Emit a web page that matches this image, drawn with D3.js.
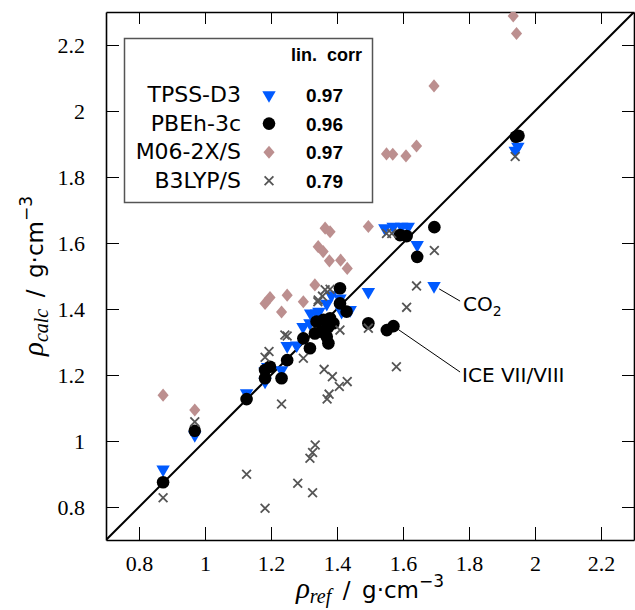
<!DOCTYPE html>
<html>
<head>
<meta charset="utf-8">
<script src="https://cdn.jsdelivr.net/npm/d3@7"></script>
<style>
  body { margin: 0; background: #fff; }
  svg { display: block; }
</style>
</head>
<body>
<script>
// reference density vs calculated density, one [ref, calc] pair per crystal
const tpss = [
  [0.873,0.914],[0.969,1.018],[1.126,1.145],[1.182,1.180],[1.182,1.211],[1.190,1.225],
  [1.232,1.215],[1.249,1.288],[1.278,1.290],[1.297,1.346],[1.318,1.357],[1.320,1.387],
  [1.338,1.387],[1.345,1.392],[1.369,1.416],[1.383,1.442],[1.409,1.432],[1.414,1.392],
  [1.440,1.397],[1.495,1.452],[1.545,1.645],[1.570,1.650],[1.596,1.650],[1.616,1.650],
  [1.643,1.594],[1.694,1.470],[1.940,1.880],[1.948,1.892]
]
const pbeh = [
  [0.873,0.875],[0.969,1.031],[1.126,1.127],[1.182,1.190],[1.182,1.215],[1.197,1.225],
  [1.232,1.190],[1.249,1.245],[1.298,1.311],[1.318,1.281],[1.333,1.326],[1.338,1.362],
  [1.353,1.331],[1.359,1.367],[1.369,1.316],[1.374,1.346],[1.374,1.296],[1.379,1.372],
  [1.389,1.357],[1.409,1.417],[1.409,1.463],[1.429,1.392],[1.495,1.357],[1.551,1.336],
  [1.571,1.348],[1.591,1.624],[1.611,1.621],[1.643,1.558],[1.695,1.648],[1.942,1.922],
  [1.950,1.925]
]
const m06 = [
  [0.873,1.139],[0.969,1.094],[1.182,1.417],[1.197,1.435],[1.232,1.391],[1.249,1.442],
  [1.298,1.422],[1.333,1.473],[1.343,1.589],[1.358,1.574],[1.364,1.645],[1.379,1.634],
  [1.377,1.546],[1.411,1.548],[1.431,1.523],[1.495,1.650],[1.550,1.870],[1.569,1.869],
  [1.609,1.864],[1.641,1.894],[1.694,2.076],[1.934,2.288],[1.944,2.235]
]
const b3lyp = [
  [0.873,0.828],[0.969,1.058],[1.126,0.899],[1.182,0.796],[1.182,1.254],[1.194,1.271],
  [1.232,1.112],[1.242,1.321],[1.249,1.318],[1.281,0.872],[1.298,1.251],[1.318,0.948],
  [1.326,0.843],[1.326,0.965],[1.334,0.988],[1.342,1.422],[1.343,1.427],[1.356,1.439],
  [1.364,1.458],[1.379,1.460],[1.361,1.217],[1.370,1.127],[1.376,1.142],[1.386,1.195],
  [1.407,1.165],[1.409,1.336],[1.431,1.180],[1.495,1.342],[1.550,1.629],[1.566,1.629],
  [1.580,1.225],[1.611,1.405],[1.641,1.470],[1.695,1.577],[1.940,1.862]
]

const methods = ["TPSS-D3", "PBEh-3c", "M06-2X/S", "B3LYP/S"]
const corr = ["0.97", "0.96", "0.97", "0.79"]
const ticks = [0.8, 1, 1.2, 1.4, 1.6, 1.8, 2, 2.2]
const domain = [0.7, 2.3]

// labelled outliers: data point, label anchor (data units), text
const notes = [
  { at: [1.694, 1.470], to: [1.773, 1.424], pos: [1.782, 1.394], main: "CO", sub: "2" },
  { at: [1.571, 1.348], to: [1.773, 1.209], pos: [1.779, 1.180], main: "ICE VII/VIII", sub: "" }
]

const W = 635, H = 610
const mLeft = 106, mTop = 12, size = 528

const svg = d3.select("body").append("svg").attr("width", W).attr("height", H)

const x = d3.scaleLinear().domain(domain).range([mLeft, mLeft + size])
const y = d3.scaleLinear().domain(domain).range([mTop + size, mTop])

svg.append("clipPath").attr("id", "clip")
  .append("rect").attr("x", mLeft).attr("y", mTop).attr("width", size).attr("height", size)

const serif = "'Liberation Serif', 'Times New Roman', serif"
const sans = "'DejaVu Sans', sans-serif"

// axes: ticks point inward on all four sides
const fmt = d => d3.format("")(d)
svg.append("g").attr("transform", `translate(0,${mTop + size})`)
  .call(d3.axisBottom(x).tickValues(ticks).tickSize(-13).tickSizeOuter(0).tickPadding(15).tickFormat(fmt))
svg.append("g").attr("transform", `translate(${mLeft},0)`)
  .call(d3.axisLeft(y).tickValues(ticks).tickSize(-13).tickSizeOuter(0).tickPadding(21).tickFormat(fmt))
svg.append("g").attr("transform", `translate(0,${mTop})`)
  .call(d3.axisTop(x).tickValues(ticks).tickSize(-12).tickSizeOuter(0).tickFormat(""))
svg.append("g").attr("transform", `translate(${mLeft + size},0)`)
  .call(d3.axisRight(y).tickValues(ticks).tickSize(-12).tickSizeOuter(0).tickFormat(""))

svg.selectAll(".domain").attr("stroke", "#000").attr("stroke-width", 1.6)
svg.selectAll(".tick line").attr("stroke", "#000").attr("stroke-width", 1)
svg.selectAll(".tick text").attr("font-family", serif).attr("font-size", 22).attr("fill", "#000")

// y = x
svg.append("line")
  .attr("clip-path", "url(#clip)")
  .attr("x1", x(domain[0])).attr("y1", y(domain[0]))
  .attr("x2", x(domain[1])).attr("y2", y(domain[1]))
  .attr("stroke", "#000").attr("stroke-width", 2)

const tri = d3.symbol(d3.symbolTriangle).size(78)()
const circ = d3.symbol(d3.symbolCircle).size(125)()
const sq = d3.symbol(d3.symbolSquare).size(62)()
const times = d3.symbol(d3.symbolTimes).size(52)()

const series = [
  { data: tpss, path: tri, fill: "#005aff", stroke: "none", tf: "rotate(180)" },
  { data: pbeh, path: circ, fill: "#000", stroke: "none", tf: "" },
  { data: m06, path: sq, fill: "#bc8f8f", stroke: "none", tf: "scale(1,1.18) rotate(45)" },
  { data: b3lyp, path: times, fill: "none", stroke: "#555", tf: "" }
]

const plot = svg.append("g").attr("clip-path", "url(#clip)")
series.forEach(s => {
  plot.append("g").selectAll("path")
    .data(s.data)
    .enter()
    .append("path")
    .attr("d", s.path)
    .attr("transform", d => `translate(${x(d[0])},${y(d[1])}) ${s.tf}`)
    .attr("fill", s.fill)
    .attr("stroke", s.stroke)
    .attr("stroke-width", 1.8)
})

// annotations
notes.forEach(n => {
  const x0 = x(n.at[0]), y0 = y(n.at[1]), x1 = x(n.to[0]), y1 = y(n.to[1])
  const a = Math.atan2(y1 - y0, x1 - x0)
  svg.append("line")
    .attr("x1", x0 + 6 * Math.cos(a)).attr("y1", y0 + 6 * Math.sin(a))
    .attr("x2", x1).attr("y2", y1)
    .attr("stroke", "#000").attr("stroke-width", 1)
  const t = svg.append("text").attr("x", x(n.pos[0])).attr("y", y(n.pos[1]))
    .attr("font-family", sans).attr("font-size", 20).attr("fill", "#000")
  t.append("tspan").text(n.main)
  if (n.sub) t.append("tspan").attr("font-size", 14).attr("dy", 5).text(n.sub)
})

// legend
const lg = svg.append("g")
lg.append("rect").attr("x", 124.5).attr("y", 38.5).attr("width", 248).attr("height", 164)
  .attr("fill", "#fff").attr("stroke", "#555").attr("stroke-width", 1.5)
lg.append("text").attr("x", 291).attr("y", 61)
  .attr("font-family", "'Liberation Sans', Arial, sans-serif").attr("font-weight", "bold")
  .attr("font-size", 18).text("lin.\u00a0\u00a0corr")
methods.forEach((m, i) => {
  const by = 102 + i * 28.6
  lg.append("text").attr("x", 241).attr("y", by).attr("text-anchor", "end")
    .attr("font-family", sans).attr("font-size", 22).text(m)
  const s = series[i]
  lg.append("path").attr("d", s.path)
    .attr("transform", `translate(269,${by - 7}) ${s.tf}`)
    .attr("fill", s.fill).attr("stroke", s.stroke).attr("stroke-width", 1.8)
  lg.append("text").attr("x", 306).attr("y", by)
    .attr("font-family", "'Liberation Sans', Arial, sans-serif").attr("font-weight", "bold")
    .attr("font-size", 19).text(corr[i])
})

// axis titles
function axisTitle(g, sub) {
  const t = g.append("text").attr("text-anchor", "middle").attr("fill", "#000")
  t.append("tspan").attr("font-family", serif).attr("font-style", "italic").attr("font-size", 29).text("ρ")
  t.append("tspan").attr("font-family", serif).attr("font-style", "italic").attr("font-size", 20).attr("dy", 5).text(sub)
  t.append("tspan").attr("font-family", sans).attr("font-size", 23).attr("dy", -5).text("\u2002/\u2002g·cm")
  t.append("tspan").attr("font-family", sans).attr("font-size", 17).attr("dy", -11).text("−3")
}
axisTitle(svg.append("g").attr("transform", `translate(${mLeft + size / 2},598)`), "ref")
axisTitle(svg.append("g").attr("transform", `translate(43,${mTop + size / 2}) rotate(-90)`), "calc")
</script>
</body>
</html>
